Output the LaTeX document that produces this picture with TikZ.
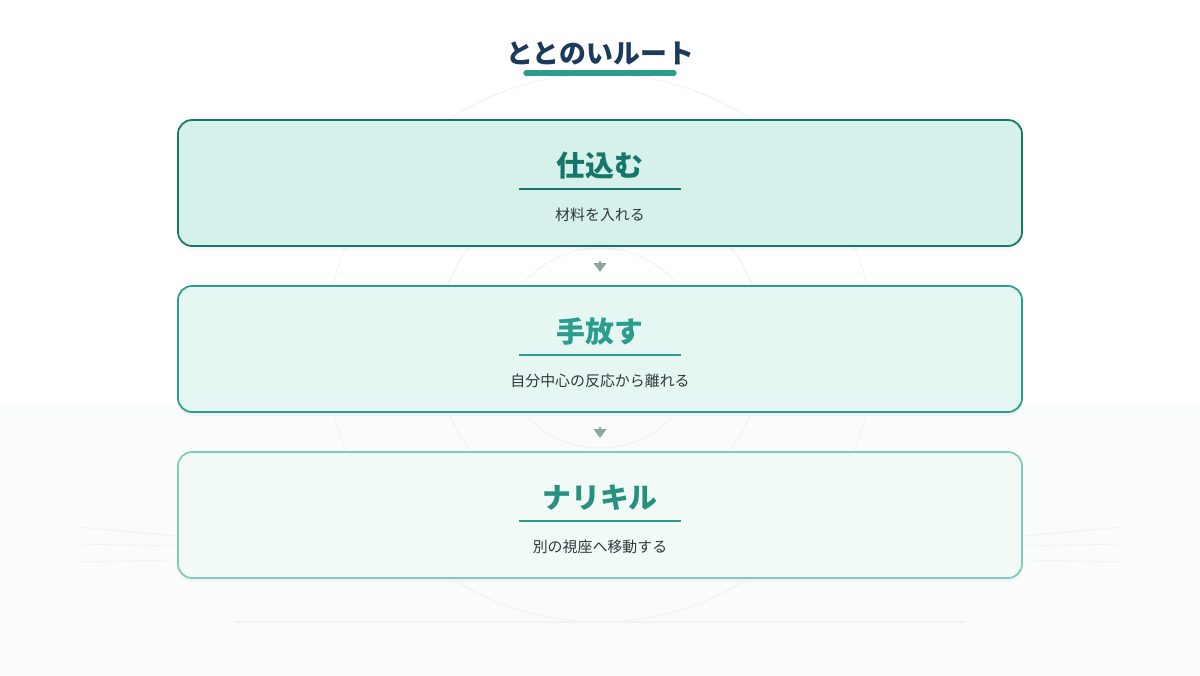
\documentclass[tikz,border=0pt]{standalone}
\usepackage{fontspec}
\setmainfont{Noto Sans CJK JP}
\usetikzlibrary{positioning,shadows,arrows.meta}

\definecolor{navy}{HTML}{1B3A5C}
\definecolor{tealmain}{HTML}{2A9D8F}
\definecolor{tealdark}{HTML}{17766A}
\definecolor{tealmid}{HTML}{27907F}
\definecolor{teallight}{HTML}{7CCBBE}
\definecolor{fillA}{HTML}{D6F0EB}
\definecolor{fillB}{HTML}{E6F6F2}
\definecolor{fillC}{HTML}{F2FAF8}
\definecolor{subgray}{HTML}{2E3A3A}
\definecolor{faint}{HTML}{F1F3F2}
\definecolor{arrowgray}{HTML}{8AA89F}
\definecolor{lowbg}{HTML}{FAFCFB}

\begin{document}
\begin{tikzpicture}[node distance=0.8cm,
		stepbox/.style={rounded corners=0.28cm,line width=1pt,outer sep=0pt,minimum width=16.88cm,minimum height=2.52cm,
			drop shadow={opacity=0.06,shadow xshift=0pt,shadow yshift=-0.08cm}},
		ttl/.style={font=\bfseries\fontsize{16.4}{19}\selectfont},
		sub/.style={font=\fontsize{8.5}{10}\selectfont,text=subgray},
		bar/.style={line width=1.2pt},
		flow/.style={draw=arrowgray,line width=1.5pt,-{Triangle[width=7pt,length=5pt]},shorten <=0.3cm,shorten >=0.28cm}]

	% background
	\fill[white] (0,0) rectangle (24,13.5);
	\fill[lowbg] (0,0) rectangle (24,5.4);
	\useasboundingbox (0,0) rectangle (24,13.5);
	\draw[faint,line width=0.6pt] (12,6.54) circle (5.48cm);
	\draw[faint,line width=0.6pt] (12,6.54) circle (3.3cm);
	\draw[faint,line width=0.6pt] (12,6.54) circle (2cm);
	\draw[faint,line width=0.6pt] (4.7,1.06) -- (19.3,1.06);
	\draw[faint,line width=0.5pt] (1.6,2.96) -- (3.5,2.78);
	\draw[faint,line width=0.5pt] (1.6,2.62) -- (3.5,2.58);
	\draw[faint,line width=0.5pt] (1.6,2.26) -- (3.4,2.3);
	\draw[faint,line width=0.5pt] (22.4,2.96) -- (20.5,2.78);
	\draw[faint,line width=0.5pt] (22.4,2.62) -- (20.5,2.58);
	\draw[faint,line width=0.5pt] (22.4,2.26) -- (20.6,2.3);

	% title
	\node[font=\bfseries\fontsize{15.3}{18}\selectfont,text=navy] (title) at (12,12.43) {ととのいルート};
	\draw[tealmain,line width=3pt,line cap=round] (10.52,12.04) -- (13.48,12.04);

	% steps
	\node[stepbox,draw=tealdark,fill=fillA] (b1) at (12,9.84) {};
	\node[stepbox,draw=tealmain,fill=fillB] (b2) [below=of b1] {};
	\node[stepbox,draw=teallight,fill=fillC] (b3) [below=of b2] {};

	\node[ttl,text=tealdark] (t1) at ([yshift=0.34cm]b1.center) {仕込む};
	\node[ttl,text=tealmain] (t2) at ([yshift=0.34cm]b2.center) {手放す};
	\node[ttl,text=tealmid] (t3) at ([yshift=0.34cm]b3.center) {ナリキル};

	\draw[bar,tealdark] ([xshift=-1.62cm,yshift=-0.12cm]b1.center) -- ([xshift=1.62cm,yshift=-0.12cm]b1.center);
	\draw[bar,tealmain] ([xshift=-1.62cm,yshift=-0.12cm]b2.center) -- ([xshift=1.62cm,yshift=-0.12cm]b2.center);
	\draw[bar,tealmain] ([xshift=-1.62cm,yshift=-0.12cm]b3.center) -- ([xshift=1.62cm,yshift=-0.12cm]b3.center);

	\node[sub] (s1) at ([yshift=-0.64cm]b1.center) {材料を入れる};
	\node[sub] (s2) at ([yshift=-0.64cm]b2.center) {自分中心の反応から離れる};
	\node[sub] (s3) at ([yshift=-0.64cm]b3.center) {別の視座へ移動する};

	% arrows
	\path (b1) edge[flow] (b2)
		(b2) edge[flow] (b3);
\end{tikzpicture}
\end{document}
